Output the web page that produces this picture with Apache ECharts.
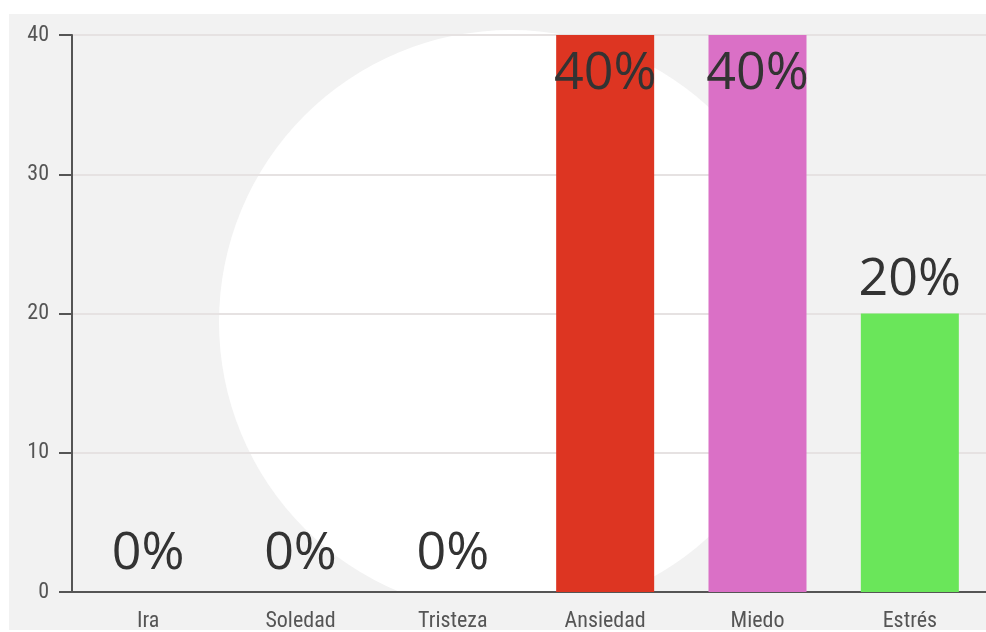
<!DOCTYPE html>
<html>
<head>
<meta charset="utf-8">
<script src="https://cdn.jsdelivr.net/npm/echarts@6/dist/echarts.min.js"></script>
<style>
html,body{margin:0;padding:0;background:#fff;}
#c{width:986px;height:632px;}
</style>
</head>
<body>
<div id="c"></div>
<script>
var categories = ['Ira', 'Soledad', 'Tristeza', 'Ansiedad', 'Miedo', 'Estrés'];
var values = [0, 0, 0, 40, 40, 20];
var barColors = ['#dd3522', '#dd3522', '#dd3522', '#dd3522', '#da70c6', '#6ae65a'];
var yTicks = [0, 10, 20, 30, 40];

var chart = echarts.init(document.getElementById('c'), null, {renderer: 'canvas'});
var data = values.map(function (v, i) {
  return {
    value: v,
    itemStyle: {color: barColors[i]},
    label: v >= 40 ? {position: 'insideTop', distance: 13} : {position: 'top', distance: v === 0 ? 12 : 7}
  };
});
var axisFont = "'Liberation Sans Narrow', 'Roboto Condensed', 'Roboto', sans-serif";
chart.setOption({
  animation: false,
  graphic: [
    {type: 'rect', z: -10, silent: true, shape: {x: 9, y: 14, width: 977, height: 616}, style: {fill: '#f2f2f2'}},
    {type: 'circle', z: -9, silent: true, shape: {cx: 511, cy: 322, r: 292}, style: {fill: '#ffffff'}},
    {type: 'rect', z: -8, silent: true, shape: {x: 9, y: 593, width: 977, height: 37}, style: {fill: '#f2f2f2'}}
  ],
  grid: {left: 72, right: 0, top: 35, bottom: 40},
  xAxis: {
    type: 'category',
    data: categories,
    axisLine: {lineStyle: {color: '#555', width: 2}},
    axisTick: {alignWithLabel: true, length: 12, lineStyle: {color: '#555', width: 2}},
    axisLabel: {color: '#555', fontFamily: axisFont, fontSize: 22, margin: 18}
  },
  yAxis: {
    type: 'value',
    min: yTicks[0],
    max: yTicks[yTicks.length - 1],
    interval: 10,
    axisLine: {show: true, lineStyle: {color: '#555', width: 2}},
    axisTick: {show: true, length: 13, lineStyle: {color: '#555', width: 2}},
    axisLabel: {color: '#555', fontFamily: axisFont, fontSize: 22, margin: 23},
    splitLine: {lineStyle: {color: '#e6e2e2', width: 2}}
  },
  series: [{
    type: 'bar',
    data: data,
    barWidth: 98,
    label: {show: true, formatter: '{c}%', color: '#333', fontFamily: 'Open Sans', fontSize: 52}
  }]
});
</script>
</body>
</html>
